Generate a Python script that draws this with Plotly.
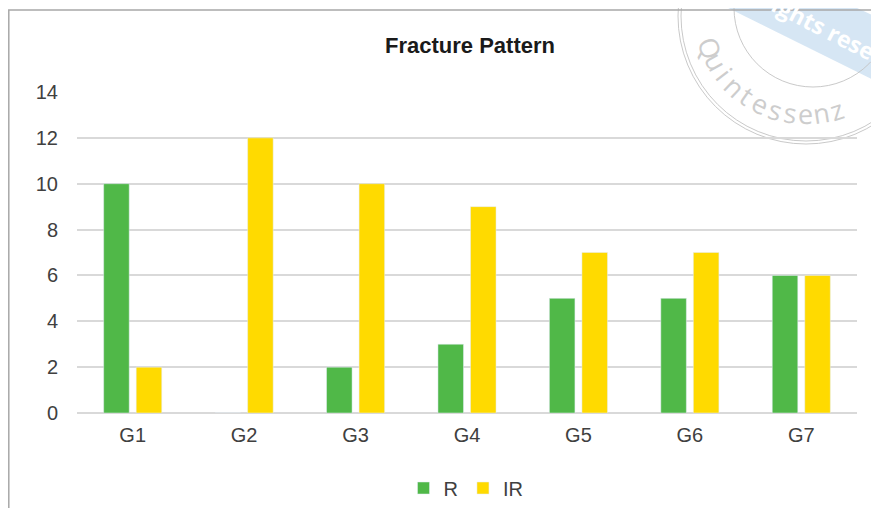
import math
import plotly.graph_objects as go

categories = ["G1", "G2", "G3", "G4", "G5", "G6", "G7"]
r_values = [10, 0, 2, 3, 5, 5, 6]
ir_values = [2, 12, 10, 9, 7, 7, 6]
y_ticks = [0, 2, 4, 6, 8, 10, 12, 14]

OFF = 8  # page body margin
W, H = 879 - OFF, 508 - OFF
L = 77 - OFF
T = 92 - OFF
R = W - (857 - OFF)
B = H - (413 - OFF)
PW, PH = W - L - R, H - T - B


def px(x):
    """target-picture x pixel -> paper coordinate"""
    return (x - OFF - L) / PW


def py(y):
    """target-picture y pixel -> paper coordinate"""
    return (H - B - (y - OFF)) / PH


fig = go.Figure()
fig.add_trace(go.Bar(name="R", x=categories, y=r_values, marker_color="#50B848"))
fig.add_trace(go.Bar(name="IR", x=categories, y=ir_values, marker_color="#FFDA00"))

shapes = []
# watermark stamp
stamp_col = "rgba(195,195,195,0.9)"
shapes.append(dict(type="path", xref="paper", yref="paper",
                   path=f"M {px(712)},{py(0)} L {px(900)},{py(93)} L {px(900)},{py(28)} L {px(840)},{py(0)} Z",
                   fillcolor="rgba(200,221,240,0.75)", line=dict(width=0), layer="below"))
for cx, cy, rr in [(806, 16, 128), (806, 16, 125), (813, 8, 79)]:
    shapes.append(dict(type="circle", xref="paper", yref="paper",
                       x0=px(cx - rr), x1=px(cx + rr), y0=py(cy + rr), y1=py(cy - rr),
                       line=dict(color=stamp_col, width=1), layer="below"))
# chart frame (left and top edges)
shapes.append(dict(type="path", xref="paper", yref="paper",
                   path=f"M {px(8.8)},{py(520)} L {px(8.8)},{py(10)} L {px(890)},{py(10)}",
                   line=dict(color="#a8a8a8", width=1.5), layer="above"))

annotations = []
word = "Quintessenz"
ccx, ccy, rad = 805, 13, 101
for i, ch in enumerate(word):
    th = 160 - i * 8.8
    t = math.radians(th)
    xx = ccx + rad * math.cos(t)
    yy = ccy + rad * math.sin(t)
    annotations.append(dict(text=ch, x=px(xx), y=py(yy), xref="paper", yref="paper",
                            showarrow=False, textangle=th - 90,
                            font=dict(family="Open Sans", size=27, color="#cdcdcd"),
                            xanchor="center", yanchor="middle"))
annotations.append(dict(text="<b>rights reserved</b>", x=px(842), y=py(37), xref="paper", yref="paper",
                        showarrow=False, textangle=27,
                        font=dict(family="Open Sans", size=23, color="white"),
                        xanchor="center", yanchor="middle"))

fig.update_layout(
    width=W, height=H,
    margin=dict(l=L, r=R, t=T, b=B),
    paper_bgcolor="white", plot_bgcolor="white",
    barmode="group", bargap=0.416, bargroupgap=0.215,
    title=dict(text="<b>Fracture Pattern</b>", x=px(470), xref="paper", y=1 - (45 - OFF) / H,
               yanchor="middle", xanchor="center",
               font=dict(family="Liberation Sans", size=22, color="#1a1a1a")),
    font=dict(family="Liberation Sans", size=20, color="#404040"),
    legend=dict(orientation="h", x=px(466), xanchor="center",
                yref="container", y=(508 - 488) / H, yanchor="middle",
                font=dict(size=20, color="#404040"), traceorder="normal"),
    shapes=shapes, annotations=annotations,
    showlegend=True,
)
fig.update_xaxes(showgrid=False, showline=False, ticks="", ticklabelstandoff=8, automargin=False,
                 tickfont=dict(size=20, color="#404040"))
fig.update_yaxes(range=[0, 14], tickvals=y_ticks, showgrid=True, gridcolor="#d9d9d9", gridwidth=2,
                 zeroline=True, zerolinecolor="#d9d9d9", zerolinewidth=2, showline=False, automargin=False,
                 ticks="", ticklabelstandoff=18, tickfont=dict(size=20, color="#404040"))

fig.write_html("out.html")
